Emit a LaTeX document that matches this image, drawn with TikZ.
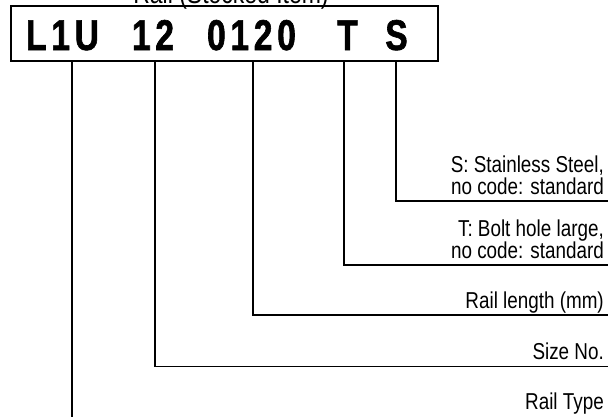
\documentclass[tikz,border=0pt]{standalone}
\usepackage{fontspec}
\setmainfont{Liberation Sans}[FakeStretch=0.82]
\newfontfamily\codefont{Liberation Sans Bold}[FakeStretch=0.78,FakeBold=1.4,LetterSpace=11]
\usetikzlibrary{positioning}

\begin{document}
\begin{tikzpicture}[
    x=1pt, y=-1pt,
    code/.style={font=\codefont\fontsize{43}{45}\selectfont, anchor=base, inner sep=0pt},
    lbl/.style={font=\fontsize{23}{22}\selectfont, anchor=base east, align=right, inner sep=0pt},
    conn/.style={line width=1.8pt, line cap=rect}
]
\useasboundingbox (0,0) rectangle (608,416);
\clip (0,0) rectangle (608,416);
% Code box with title above
\node[draw, line width=2.3pt, minimum width=427pt, minimum height=55pt, inner sep=0pt] (box) at (224.5,33.5) {};
\node[font=\fontsize{28}{30}\selectfont, anchor=base, inner sep=0pt] (title) at (231,3) {Rail (Stocked Item)};
% Code segments
\node[code] (segL) at (62.5,50) {L1U};
\node[code] (segSize) at (153,50) {12};
\node[code] (segLen) at (251.5,50) {0120};
\node[code] (segT) at (347.5,50) {T};
\node[code] (segS) at (396.5,50) {S};
% Labels -- right aligned at the edge
\node[lbl] (lblS) at (604,194) {S: Stainless Steel,\\no code: standard};
\node[lbl] (lblT) at (604,258) {T: Bolt hole large,\\no code: standard};
\node[lbl] (lblLen) at (604,308) {Rail length (mm)};
\node[lbl] (lblSize) at (604,359) {Size No.};
\node[lbl] (lblType) at (604,409) {Rail Type};
% Taps under the box and line ends
\coordinate (tapL) at ([xshift=9.5pt]segL.south);
\coordinate (tapSize) at ([xshift=2pt]segSize.south);
\coordinate (tapLen) at ([xshift=1.5pt]segLen.south);
\coordinate (tapT) at ([xshift=-3.5pt]segT.south);
\coordinate (tapS) at ([xshift=-0.5pt]segS.south);
\coordinate (endS) at (612,201);
\coordinate (endT) at (612,265);
\coordinate (endLen) at (612,315);
\coordinate (endSize) at (612,366.5);
\coordinate (endType) at (72,420);
% Connectors
\draw[conn] (tapS |- box.south) |- (endS);
\draw[conn] (tapT |- box.south) |- (endT);
\draw[conn] (tapLen |- box.south) |- (endLen);
\draw[conn] (tapSize |- box.south) |- (endSize);
\draw[conn] (tapL |- box.south) -- (endType);
\end{tikzpicture}
\end{document}
